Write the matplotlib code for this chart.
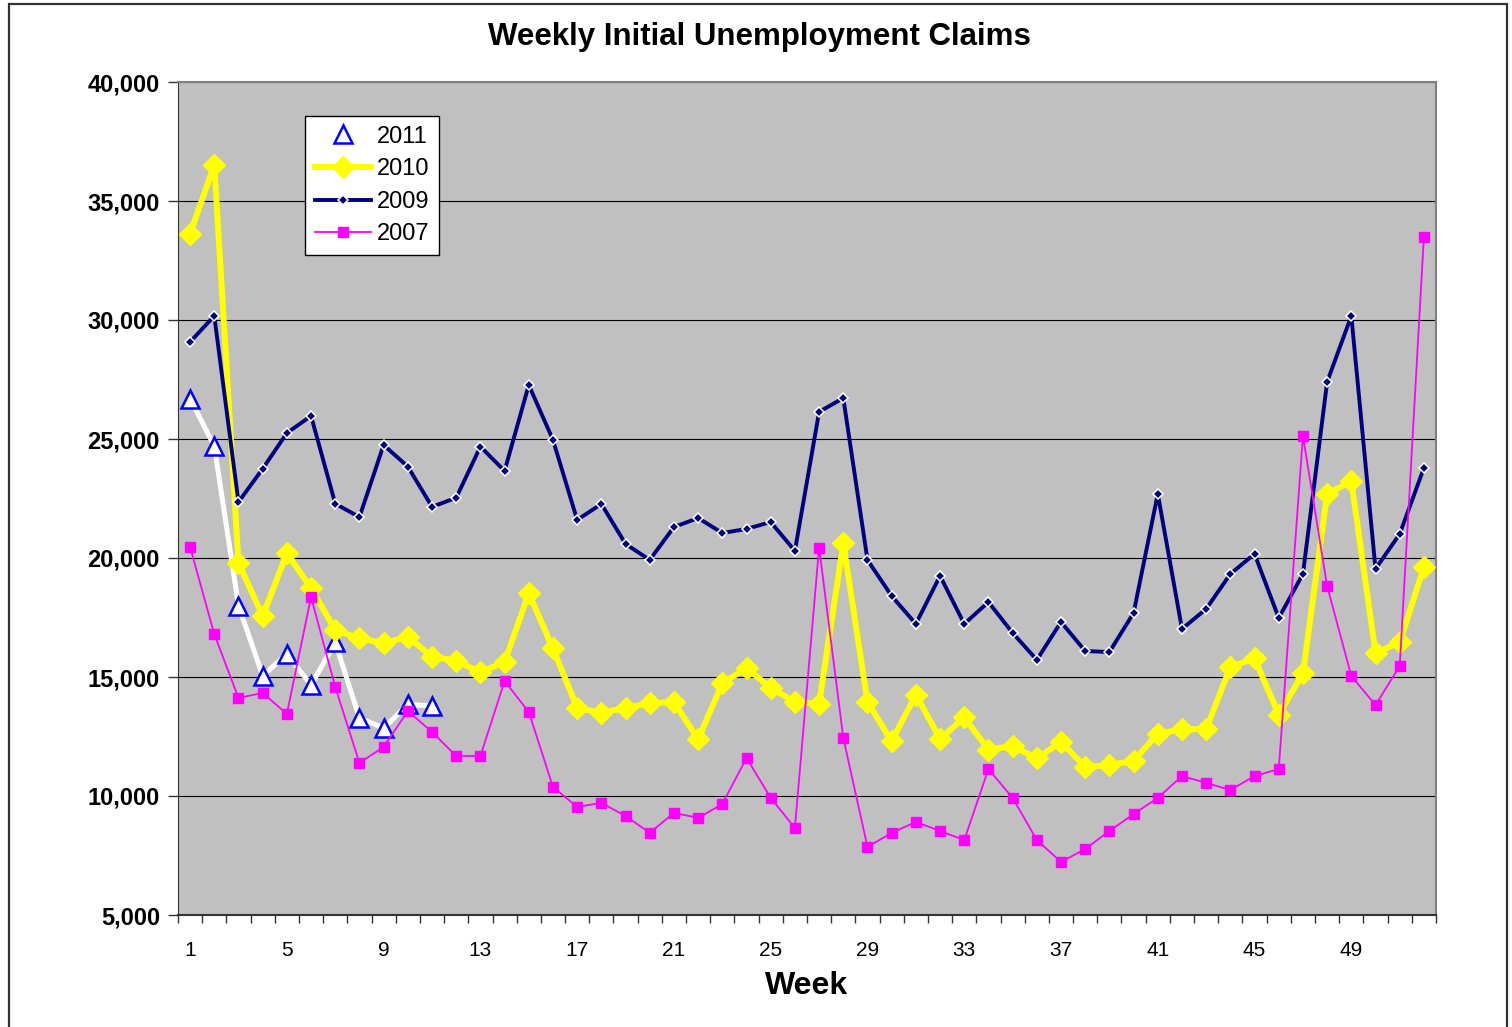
import matplotlib.pyplot as plt
from matplotlib.patches import Rectangle
from matplotlib.ticker import FuncFormatter, MultipleLocator

# weekly initial claims
weeks = list(range(1, 53))

claims_2011 = [26700, 24700, 18000, 15050, 15970, 14660, 16450, 13280, 12850, 13850, 13780]

claims_2010 = [33620, 36520, 19800, 17560, 20200, 18730, 16980, 16620, 16430, 16680,
               15860, 15680, 15200, 15630, 18520, 16200, 13700, 13500, 13700, 13900,
               13950, 12380, 14740, 15380, 14540, 13950, 13870, 20620, 13950, 12300,
               14260, 12400, 13300, 11950, 12100, 11580, 12270, 11220, 11300, 11480,
               12620, 12800, 12820, 15420, 15780, 13420, 15150, 22690, 23220, 16020,
               16450, 19620]

claims_2009 = [29080, 30170, 22350, 23750, 25250, 25970, 22280, 21720, 24750, 23840,
               22150, 22530, 24680, 23660, 27270, 24960, 21600, 22270, 20590, 19920,
               21300, 21680, 21050, 21220, 21510, 20300, 26140, 26720, 19920, 18400,
               17230, 19250, 17230, 18150, 16850, 15720, 17310, 16090, 16050, 17690,
               22690, 17020, 17860, 19330, 20170, 17480, 19330, 27400, 30170, 19540,
               21010, 23780]

claims_2007 = [20460, 16800, 14120, 14330, 13450, 18360, 14580, 11390, 12060, 13570,
               12690, 11680, 11680, 14830, 13530, 10380, 9540, 9710, 9160, 8450,
               9290, 9080, 9660, 11600, 9920, 8660, 20440, 12440, 7860, 8450,
               8910, 8530, 8150, 11130, 9920, 8150, 7230, 7770, 8530, 9240,
               9920, 10840, 10550, 10250, 10840, 11130, 25130, 18820, 15040, 13820,
               15460, 33490]

week_labels = [1, 5, 9, 13, 17, 21, 25, 29, 33, 37, 41, 45, 49]

plt.rcParams['font.family'] = ['Liberation Sans', 'DejaVu Sans']

fig = plt.figure(figsize=(15.12, 10.27), dpi=100)
ax = fig.add_axes([178 / 1512, 1 - 915 / 1027, 1258 / 1512, 833 / 1027])
ax.set_facecolor('#C0C0C0')

# outer chart border
fig.patches.append(Rectangle((9 / 1512, -0.01), 1498 / 1512, 1.01 - 4 / 1027,
                             transform=fig.transFigure, fill=False,
                             edgecolor='#333333', linewidth=1.6))

ax.plot(weeks[:len(claims_2011)], claims_2011, color='white', linewidth=3.6,
        marker='^', markersize=13, markerfacecolor='white', markeredgecolor='#0000FF',
        markeredgewidth=1.8, label='2011', zorder=3)
ax.plot(weeks, claims_2010, color='#FFFF00', linewidth=4.3,
        marker='D', markersize=11, markerfacecolor='#FFFF00', markeredgecolor='#FFFF00',
        label='2010', zorder=4)
ax.plot(weeks, claims_2009, color='#000080', linewidth=2.8,
        marker='D', markersize=5.5, markerfacecolor='#000080', markeredgecolor='white',
        markeredgewidth=1.1, label='2009', zorder=5)
ax.plot(weeks, claims_2007, color='#FF00FF', linewidth=1.3,
        marker='s', markersize=7.5, markerfacecolor='#FF00FF', markeredgecolor='#FF00FF',
        label='2007', zorder=6)

ax.set_xlim(0.5, 52.5)
ax.set_ylim(5000, 40000)
ax.yaxis.set_major_locator(MultipleLocator(5000))
ax.yaxis.set_major_formatter(FuncFormatter(lambda v, p: f'{int(v):,}'))
ax.grid(axis='y', color='black', linewidth=0.8, zorder=1)
ax.set_axisbelow(True)

ax.set_xticks(week_labels)
ax.set_xticks([w + 0.5 for w in range(0, 53)], minor=True)
ax.tick_params(axis='x', which='major', length=0, pad=19, labelsize=15)
ax.tick_params(axis='x', which='minor', length=6, width=1, direction='out', color='#333333')
ax.tick_params(axis='y', which='major', length=7, width=1, color='#333333', pad=6)
for lab in ax.get_yticklabels():
    lab.set_fontweight('bold')
    lab.set_fontsize(17)

for side in ['top', 'right']:
    ax.spines[side].set_color('#808080')
    ax.spines[side].set_linewidth(1.5)
ax.spines['left'].set_color('#333333')
ax.spines['bottom'].set_color('#333333')
ax.spines['bottom'].set_linewidth(1.5)

ax.set_xlabel('Week', fontsize=23, fontweight='bold', labelpad=8)
fig.text(759 / 1512, 1 - 37 / 1027, 'Weekly Initial Unemployment Claims',
         ha='center', va='center', fontsize=22.5, fontweight='bold')

leg = ax.legend(loc='upper left', bbox_to_anchor=(0.101, 0.959), borderaxespad=0,
                fontsize=17, handlelength=2.4, handletextpad=0.25, labelspacing=0.45,
                borderpad=0.4, fancybox=False, framealpha=1, edgecolor='black')
leg.get_frame().set_linewidth(1.0)

fig.savefig('out.png', dpi=100)
